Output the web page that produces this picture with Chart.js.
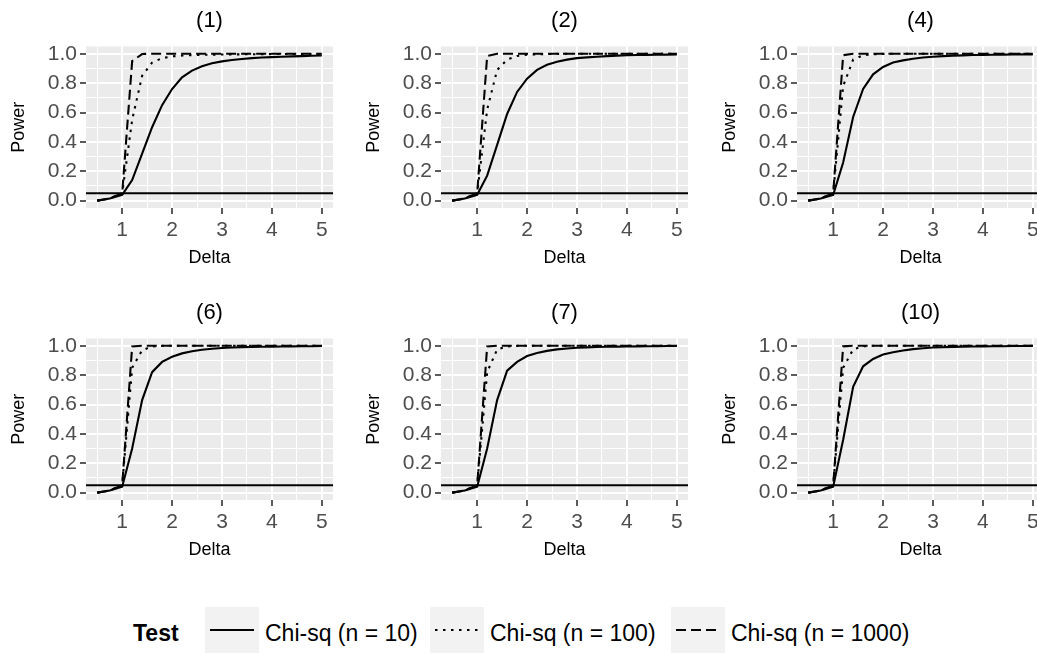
<!DOCTYPE html>
<html>
<head>
<meta charset="utf-8">
<script src="https://cdn.jsdelivr.net/npm/chart.js@4.4.1/dist/chart.umd.min.js"></script>
<style>
  body { margin: 0; width: 1037px; height: 654px; overflow: hidden; background: #fff; position: relative;
         font-family: "Liberation Sans", Arial, sans-serif; }
  .panel { position: absolute; width: 356px; height: 292px; }
  .legend-title { position: absolute; font-weight: bold; font-size: 23px; color: #000; }
  .legend-key { position: absolute; width: 54px; height: 46px; background: #f2f2f2; }
  .legend-label { position: absolute; font-size: 23px; color: #000; white-space: nowrap; }
</style>
</head>
<body>
<div id="wrap"></div>
<script>
// x values (Delta) shared by every panel
const deltas = [0.5, 0.75, 1.0, 1.2, 1.4, 1.6, 1.8, 2.0, 2.2, 2.4, 2.6, 2.8, 3.0, 3.2, 3.4, 3.6, 3.8, 4.0, 4.2, 4.4, 4.6, 4.8, 5.0];

const panelLabels = ["(1)", "(2)", "(4)", "(6)", "(7)", "(10)"];
const seriesLabels = ["Chi-sq (n = 10)", "Chi-sq (n = 100)", "Chi-sq (n = 1000)"];
const alphaLevel = 0.05;

const xTickValues = [0.5, 1, 1.5, 2, 2.5, 3, 3.5, 4, 4.5, 5];
const yTickValues = [0, 0.1, 0.2, 0.3, 0.4, 0.5, 0.6, 0.7, 0.8, 0.9, 1.0];

// power values, one array per panel and sample size
const p1_n10   = [0, 0.015, 0.04, 0.14, 0.32, 0.50, 0.65, 0.76, 0.84, 0.885, 0.915, 0.935, 0.948, 0.957, 0.964, 0.97, 0.974, 0.977, 0.98, 0.982, 0.984, 0.986, 0.988];
const p1_n100  = [0, 0.015, 0.05, 0.55, 0.85, 0.94, 0.97, 0.982, 0.988, 0.991, 0.993, 0.994, 0.995, 0.996, 0.996, 0.997, 0.997, 0.998, 0.998, 0.998, 0.998, 0.998, 0.998];
const p1_n1000 = [0, 0.015, 0.05, 0.95, 0.998, 1, 1, 1, 1, 1, 1, 1, 1, 1, 1, 1, 1, 1, 1, 1, 1, 1, 1];

const p2_n10   = [0, 0.015, 0.04, 0.17, 0.38, 0.59, 0.74, 0.83, 0.89, 0.925, 0.945, 0.96, 0.97, 0.975, 0.98, 0.984, 0.987, 0.99, 0.991, 0.992, 0.993, 0.994, 0.995];
const p2_n100  = [0, 0.015, 0.05, 0.62, 0.89, 0.96, 0.985, 0.993, 0.996, 0.998, 0.999, 1, 1, 1, 1, 1, 1, 1, 1, 1, 1, 1, 1];
const p2_n1000 = [0, 0.015, 0.05, 0.985, 1, 1, 1, 1, 1, 1, 1, 1, 1, 1, 1, 1, 1, 1, 1, 1, 1, 1, 1];

const p4_n10   = [0, 0.015, 0.04, 0.26, 0.57, 0.76, 0.86, 0.91, 0.94, 0.955, 0.966, 0.974, 0.98, 0.984, 0.987, 0.989, 0.991, 0.992, 0.993, 0.994, 0.995, 0.996, 0.996];
const p4_n100  = [0, 0.015, 0.05, 0.78, 0.96, 0.99, 0.997, 0.999, 1, 1, 1, 1, 1, 1, 1, 1, 1, 1, 1, 1, 1, 1, 1];
const p4_n1000 = [0, 0.015, 0.05, 0.99, 1, 1, 1, 1, 1, 1, 1, 1, 1, 1, 1, 1, 1, 1, 1, 1, 1, 1, 1];

const p6_n10   = [0, 0.015, 0.04, 0.30, 0.63, 0.82, 0.89, 0.925, 0.948, 0.963, 0.973, 0.98, 0.985, 0.988, 0.99, 0.992, 0.993, 0.994, 0.995, 0.996, 0.997, 0.997, 0.998];
const p6_n100  = [0, 0.015, 0.05, 0.85, 0.97, 0.995, 0.999, 1, 1, 1, 1, 1, 1, 1, 1, 1, 1, 1, 1, 1, 1, 1, 1];
const p6_n1000 = [0, 0.015, 0.05, 0.995, 1, 1, 1, 1, 1, 1, 1, 1, 1, 1, 1, 1, 1, 1, 1, 1, 1, 1, 1];

const p7_n10   = [0, 0.015, 0.04, 0.30, 0.63, 0.83, 0.89, 0.93, 0.95, 0.965, 0.975, 0.981, 0.986, 0.989, 0.991, 0.993, 0.994, 0.995, 0.996, 0.997, 0.997, 0.998, 0.998];
const p7_n100  = [0, 0.015, 0.05, 0.82, 0.975, 0.995, 0.999, 1, 1, 1, 1, 1, 1, 1, 1, 1, 1, 1, 1, 1, 1, 1, 1];
const p7_n1000 = [0, 0.015, 0.05, 0.995, 1, 1, 1, 1, 1, 1, 1, 1, 1, 1, 1, 1, 1, 1, 1, 1, 1, 1, 1];

const p10_n10   = [0, 0.015, 0.04, 0.36, 0.72, 0.86, 0.91, 0.94, 0.956, 0.968, 0.977, 0.983, 0.988, 0.99, 0.992, 0.994, 0.995, 0.996, 0.997, 0.997, 0.998, 0.998, 0.999];
const p10_n100  = [0, 0.015, 0.05, 0.85, 0.975, 0.996, 1, 1, 1, 1, 1, 1, 1, 1, 1, 1, 1, 1, 1, 1, 1, 1, 1];
const p10_n1000 = [0, 0.015, 0.05, 0.996, 1, 1, 1, 1, 1, 1, 1, 1, 1, 1, 1, 1, 1, 1, 1, 1, 1, 1, 1];

const panelSeries = [
  [p1_n10, p1_n100, p1_n1000],
  [p2_n10, p2_n100, p2_n1000],
  [p4_n10, p4_n100, p4_n1000],
  [p6_n10, p6_n100, p6_n1000],
  [p7_n10, p7_n100, p7_n1000],
  [p10_n10, p10_n100, p10_n1000],
];

const dashes = [[], [2.5, 5.5], [10, 5]];
const lineW = 2.1;

const colLeft = [0, 355, 711];
const rowTop = [0, 292];

Chart.defaults.font.family = '"Liberation Sans", Arial, sans-serif';

// grey panel background, like ggplot's theme_gray
const panelBg = {
  id: "panelBg",
  beforeDraw(chart) {
    const a = chart.chartArea;
    const ctx = chart.ctx;
    ctx.save();
    ctx.fillStyle = "#ebebeb";
    ctx.fillRect(a.left, a.top, a.right - a.left, a.bottom - a.top);
    ctx.restore();
  },
};

// the horizontal reference line at the nominal level
const hLine = {
  id: "hLine",
  afterDatasetsDraw(chart) {
    const a = chart.chartArea;
    const y = chart.scales.y.getPixelForValue(alphaLevel);
    const ctx = chart.ctx;
    ctx.save();
    ctx.strokeStyle = "#000";
    ctx.lineWidth = lineW;
    ctx.beginPath();
    ctx.moveTo(a.left, y);
    ctx.lineTo(a.right, y);
    ctx.stroke();
    ctx.restore();
  },
};

const isMajorX = (v) => Math.abs(v - Math.round(v)) < 1e-6;
const isMajorY = (v) => Math.abs(v * 5 - Math.round(v * 5)) < 1e-6;

const wrap = document.getElementById("wrap");

panelLabels.forEach((label, i) => {
  const div = document.createElement("div");
  div.className = "panel";
  div.style.left = colLeft[i % 3] + "px";
  div.style.top = rowTop[Math.floor(i / 3)] + "px";
  const canvas = document.createElement("canvas");
  canvas.width = 356;
  canvas.height = 292;
  div.appendChild(canvas);
  wrap.appendChild(div);

  const datasets = panelSeries[i].map((vals, s) => ({
    label: seriesLabels[s],
    data: deltas.map((d, k) => ({ x: d, y: vals[k] })),
    borderColor: "#000",
    borderWidth: lineW,
    borderDash: dashes[s],
    pointRadius: 0,
    tension: 0,
    fill: false,
  }));

  new Chart(canvas, {
    type: "line",
    data: { datasets: datasets },
    plugins: [panelBg, hLine],
    options: {
      responsive: false,
      animation: false,
      layout: { padding: { left: 0, right: 23, top: 0, bottom: 22 } },
      plugins: {
        legend: { display: false },
        tooltip: { enabled: false },
        title: {
          display: true,
          text: label,
          fullSize: false,
          color: "#000",
          font: { size: 22, weight: "normal" },
          padding: { top: 8, bottom: 12 },
        },
      },
      scales: {
        x: {
          type: "linear",
          min: 0.275,
          max: 5.225,
          afterBuildTicks: (s) => { s.ticks = xTickValues.map((v) => ({ value: v })); },
          afterFit: (s) => { s.height = 62; },
          border: { display: false },
          grid: {
            color: "#fff",
            lineWidth: (c) => (isMajorX(c.tick.value) ? 2 : 1),
            tickColor: (c) => (isMajorX(c.tick.value) ? "#333" : "rgba(0,0,0,0)"),
            tickLength: 6,
            tickWidth: 1.6,
          },
          ticks: {
            autoSkip: false,
            maxRotation: 0,
            padding: 4,
            color: "#4d4d4d",
            font: { size: 21 },
            callback: (v) => (isMajorX(v) ? String(Math.round(v)) : ""),
          },
          title: { display: true, text: "Delta", color: "#000", font: { size: 18 }, padding: { top: 0, bottom: 1 } },
        },
        y: {
          type: "linear",
          min: -0.05,
          max: 1.05,
          afterBuildTicks: (s) => { s.ticks = yTickValues.map((v) => ({ value: v })); },
          afterFit: (s) => { s.width = 86; },
          border: { display: false },
          grid: {
            color: "#fff",
            lineWidth: (c) => (isMajorY(c.tick.value) ? 2 : 1),
            tickColor: (c) => (isMajorY(c.tick.value) ? "#333" : "rgba(0,0,0,0)"),
            tickLength: 6,
            tickWidth: 1.6,
          },
          ticks: {
            autoSkip: false,
            padding: 3,
            color: "#4d4d4d",
            font: { size: 21 },
            callback: (v) => (isMajorY(v) ? v.toFixed(1) : ""),
          },
          title: { display: true, text: "Power", color: "#000", font: { size: 18 }, padding: { top: 8, bottom: 0 } },
        },
      },
    },
  });
});

// legend along the bottom
const legendTitleLeft = 133;
const keyLeft = [205, 430, 671];
const legendTop = 607;

const t = document.createElement("div");
t.className = "legend-title";
t.textContent = "Test";
t.style.left = legendTitleLeft + "px";
t.style.top = legendTop + 13 + "px";
wrap.appendChild(t);

seriesLabels.forEach((lab, s) => {
  const key = document.createElement("div");
  key.className = "legend-key";
  key.style.left = keyLeft[s] + "px";
  key.style.top = legendTop + "px";
  key.innerHTML = '<svg width="54" height="46"><line x1="5" y1="23" x2="49" y2="23" stroke="#000" stroke-width="' + lineW +
    '" stroke-dasharray="' + (dashes[s].length ? dashes[s].join(" ") : "none") + '"/></svg>';
  wrap.appendChild(key);

  const txt = document.createElement("div");
  txt.className = "legend-label";
  txt.textContent = lab;
  txt.style.left = keyLeft[s] + 60 + "px";
  txt.style.top = legendTop + 13 + "px";
  wrap.appendChild(txt);
});
</script>
</body>
</html>
